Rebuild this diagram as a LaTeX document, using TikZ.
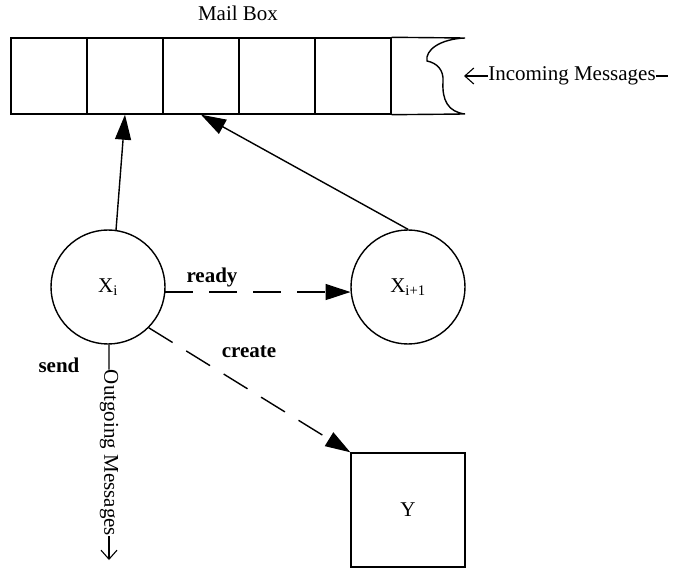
\documentclass[tikz,border=0pt]{standalone}
\usepackage{fontspec}
\setmainfont{Liberation Serif}
\usetikzlibrary{arrows.meta}

\begin{document}
\begin{tikzpicture}[x=1pt,y=-1pt,
  every node/.style={font=\fontsize{21}{25}\selectfont},
  cell/.style={draw,line width=1.4pt,minimum size=76pt,inner sep=0pt},
  proc/.style={draw,circle,line width=1.4pt,minimum size=114pt,inner sep=0pt},
  link/.style={line width=1.4pt,-{Triangle[length=25pt,width=16pt]}},
  msg/.style={line width=1.1pt,-{Straight Barb[length=9pt,width=16pt]}},
  lbl/.style={font=\fontsize{21}{25}\selectfont\bfseries}]
\path[use as bounding box] (0,0) rectangle (688,569);

% mail box
\foreach \i in {0,...,4}
  \node[cell] (c\i) at ({49+76*\i},76) {};
\draw[line width=1.4pt] (c4.north east) -- (465,38)
  .. controls (440,39) and (425,50) .. (427,61)
  .. controls (437,63) and (444,70) .. (443,82)
  .. controls (442,100) and (448,112) .. (465,114) -- (c4.south east);
\node (mailbox) at (238,13) {Mail Box};

% incoming messages
\coordinate (intip) at (464,76);
\coordinate (inend) at (668,76);
\node[inner sep=0pt] (intext) at (572,76) {Incoming Messages};
\draw[msg] (intext.west) -- (intip);
\draw[line width=1.1pt] (intext.east) -- (inend);

% processes
\node[proc] (Xi) at (108,287) {X\textsubscript{i}};
\node[proc] (Xip) at (408,287) {X\textsubscript{i+1}};
\node[draw,line width=1.4pt,minimum size=114pt] (Y) at (408,510) {Y};

\draw[link] (Xi.82) -- (c1.south);
\draw[link] (Xip.north) -- (c2.south);
\draw[link,dash pattern=on 28pt off 16pt] (Xi.-5) -- (Xip.185);
\draw[link,dash pattern=on 28pt off 16pt] (Xi.-45) -- (Y.north west);

% outgoing messages
\node[rotate=-90,inner sep=0pt] (outtext) at (109,453) {Outgoing Messages};
\coordinate (outend) at (109,560);
\draw[line width=1.1pt] (Xi.-89) -- (outtext.west);
\draw[msg] (outtext.east) -- (outend);

% labels
\node[lbl] (send) at (59,365) {send};
\node[lbl] (ready) at (212,277) {ready};
\node[lbl] (create) at (249,352) {create};
\end{tikzpicture}
\end{document}
